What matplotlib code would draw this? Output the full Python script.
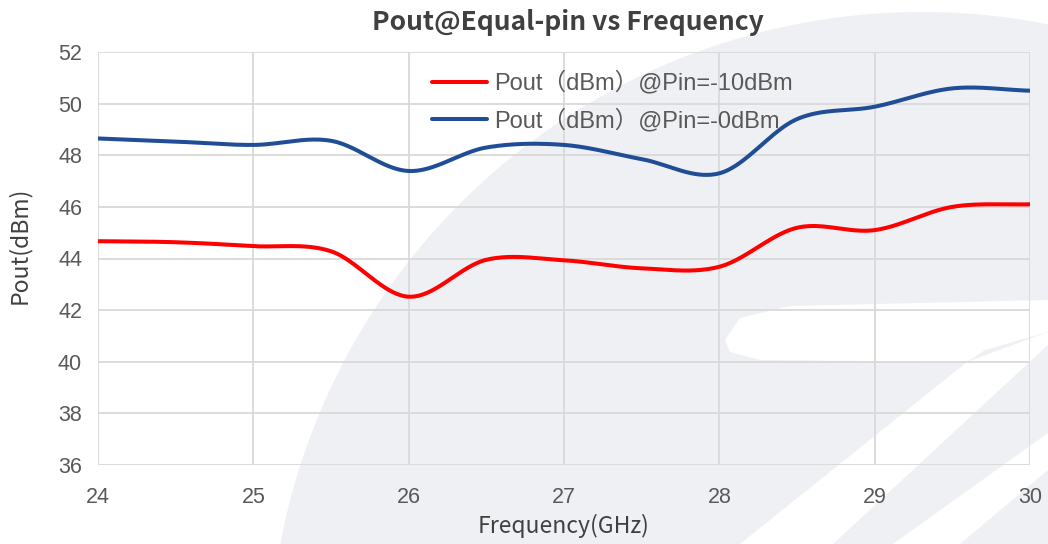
import numpy as np
import matplotlib
matplotlib.use('Agg')
import matplotlib.pyplot as plt
from matplotlib.patches import Ellipse, Polygon

# Data
freq = [24, 24.5, 25, 25.5, 26, 26.5, 27, 27.5, 28, 28.5, 29, 29.5, 30]
pout_pin_m10 = [44.67, 44.63, 44.48, 44.28, 42.52, 43.95, 43.93, 43.62, 43.68, 45.19, 45.10, 46.00, 46.10]
pout_pin_0 = [48.65, 48.53, 48.40, 48.56, 47.39, 48.30, 48.40, 47.85, 47.30, 49.40, 49.88, 50.59, 50.50]
labels = ['Pout（dBm）@Pin=-10dBm', 'Pout（dBm）@Pin=-0dBm']
colors = ['#FF0000', '#1F4E96']

W, H = 1048, 544


def smooth(x, y, n=40):
    # Catmull-Rom style smoothing (like Excel's smoothed line)
    x = np.asarray(x, float)
    y = np.asarray(y, float)
    px = np.concatenate([[2 * x[0] - x[1]], x, [2 * x[-1] - x[-2]]])
    py = np.concatenate([[2 * y[0] - y[1]], y, [2 * y[-1] - y[-2]]])
    xs, ys = [], []
    t = np.linspace(0, 1, n)
    for i in range(1, len(px) - 2):
        p0, p1, p2, p3 = [np.array([px[j], py[j]]) for j in (i - 1, i, i + 1, i + 2)]
        c1 = p1 + (p2 - p0) / 6
        c2 = p2 - (p3 - p1) / 6
        pts = ((1 - t) ** 3)[:, None] * p1 + (3 * (1 - t) ** 2 * t)[:, None] * c1 \
            + (3 * (1 - t) * t ** 2)[:, None] * c2 + (t ** 3)[:, None] * p2
        xs.append(pts[:, 0])
        ys.append(pts[:, 1])
    return np.concatenate(xs), np.concatenate(ys)


def fig_pts(pts):
    return [(px / W, 1 - py / H) for px, py in pts]


fig = plt.figure(figsize=(W / 100, H / 100), dpi=100)
fig.patch.set_facecolor('white')

# background watermark
wm = '#eff0f4'
fig.add_artist(Ellipse((922 / W, 1 - 665 / H), 2 * 653 / W, 2 * 653 / H,
                       transform=fig.transFigure, facecolor=wm, edgecolor='none', zorder=0))
fig.add_artist(Polygon(fig_pts([(725, 340), (740, 318), (790, 306), (1048, 300), (1048, 332),
                                (985, 350), (967, 362), (760, 360), (730, 352)]),
                       transform=fig.transFigure, facecolor='white', edgecolor='none', zorder=0))
fig.add_artist(Polygon(fig_pts([(967, 362), (1048, 332), (1048, 345), (833, 544), (740, 544)]),
                       transform=fig.transFigure, facecolor='white', edgecolor='none', zorder=0))
fig.add_artist(Polygon(fig_pts([(1048, 433), (1048, 470), (960, 544), (893, 544)]),
                       transform=fig.transFigure, facecolor='white', edgecolor='none', zorder=0))

ax = fig.add_axes([98 / W, 1 - 465 / H, (1030 - 98) / W, (465 - 52) / H])
ax.set_facecolor('none')

for yv, lab, c in zip([pout_pin_m10, pout_pin_0], labels, colors):
    sx, sy = smooth(freq, yv)
    ax.plot(sx, sy, color=c, lw=2.9, label=lab, solid_capstyle='round')

ax.set_xlim(24, 30)
ax.set_ylim(36, 52)
ax.set_xticks(range(24, 31))
ax.set_yticks(range(36, 53, 2))
ax.grid(True, color='#d9d9d9', lw=1.3)
ax.set_axisbelow(True)
for s in ax.spines.values():
    s.set_visible(False)
ax.tick_params(length=0, labelsize=15.5, labelcolor='#595959')
ax.tick_params(axis='x', pad=15.5)
ax.tick_params(axis='y', pad=11.5)
for t in ax.get_xticklabels() + ax.get_yticklabels():
    t.set_family('Liberation Sans')

ax.set_xlabel('Frequency(GHz)', fontsize=16.5, color='#404040', family='Noto Sans CJK SC')
ax.set_ylabel('Pout(dBm)', fontsize=16.5, color='#404040', family='Noto Sans CJK SC')
ax.xaxis.set_label_coords(0.5, -0.118)
ax.yaxis.set_label_coords(-0.072, 0.533)
fig.text(568 / W, 1 - 23 / H, 'Pout@Equal-pin vs Frequency', ha='center', va='center',
         fontsize=19, fontweight='bold', color='#404040', family='Noto Sans CJK SC')

leg = ax.legend(loc='upper left', bbox_to_anchor=((432 - 98) / (1030 - 98), 1 - 19 / 413),
                frameon=False, borderpad=0, borderaxespad=0,
                handlelength=2.35, handletextpad=0.3, labelspacing=0.6,
                prop={'family': ['Liberation Sans', 'Noto Sans CJK SC'], 'size': 17})
for t in leg.get_texts():
    t.set_color('#595959')

fig.savefig('out.png', dpi=100)
